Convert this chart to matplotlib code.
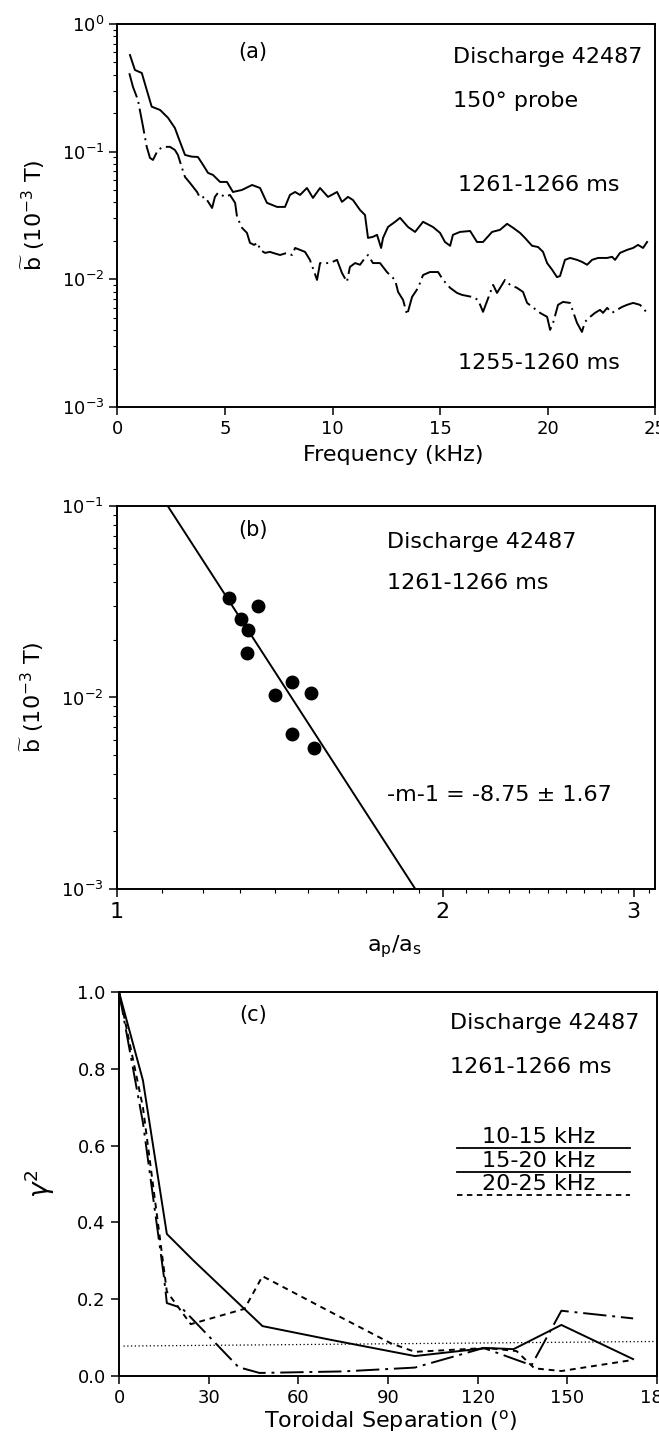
import matplotlib
matplotlib.use('Agg')
import matplotlib.pyplot as plt
from matplotlib.ticker import FixedLocator, NullFormatter, LogLocator
import numpy as np

plt.rcParams['font.family'] = ['DejaVu Sans']
plt.rcParams['mathtext.default'] = 'regular'

# ---- panel (a): spectra, discharge 42487, 150 deg probe
freq_late = [0.58, 0.81, 1.13, 1.36, 1.59, 1.98, 2.35, 2.67, 2.91, 3.14, 3.45, 3.74, 3.98, 4.21,
             4.44, 4.77, 5.09, 5.37, 5.79, 6.26, 6.63, 6.95, 7.42, 7.79, 8.02, 8.26, 8.49, 8.81,
             9.09, 9.42, 9.79, 10.21, 10.44, 10.72, 10.95, 11.28, 11.51, 11.65, 11.88, 12.07,
             12.26, 12.35, 12.58, 12.91, 13.14, 13.51, 13.84, 14.21, 14.67, 15.00, 15.23, 15.47,
             15.60, 15.93, 16.40, 16.72, 17.00, 17.42, 17.79, 18.12, 18.40, 18.72, 18.95, 19.28,
             19.56, 19.79, 19.98, 20.21, 20.44, 20.58, 20.81, 21.05, 21.37, 21.60, 21.84, 22.07,
             22.35, 22.77, 23.00, 23.14, 23.37, 23.70, 23.98, 24.21, 24.44, 24.63]
b_late = [0.571, 0.436, 0.413, 0.304, 0.225, 0.212, 0.184, 0.153, 0.119, 0.0942, 0.0914, 0.0908,
          0.0787, 0.0681, 0.0657, 0.0579, 0.0579, 0.0483, 0.0501, 0.0548, 0.0519, 0.0397, 0.0369,
          0.0369, 0.0458, 0.0483, 0.0458, 0.0519, 0.0434, 0.0519, 0.0442, 0.0483, 0.0404, 0.0442,
          0.0418, 0.0349, 0.0319, 0.0211, 0.0215, 0.0223, 0.0176, 0.0211, 0.0257, 0.0282, 0.0303,
          0.0257, 0.0235, 0.0282, 0.0257, 0.0231, 0.0196, 0.0183, 0.0223, 0.0235, 0.0239, 0.0196,
          0.0196, 0.0235, 0.0244, 0.0272, 0.0253, 0.0231, 0.0211, 0.0183, 0.0179, 0.0164, 0.0134,
          0.0119, 0.0104, 0.0106, 0.0142, 0.0147, 0.0142, 0.0137, 0.0130, 0.0142, 0.0147, 0.0147,
          0.0150, 0.0142, 0.0161, 0.0170, 0.0176, 0.0186, 0.0176, 0.0196]

freq_early = [0.55, 0.72, 0.95, 1.19, 1.36, 1.51, 1.65, 1.88, 2.12, 2.44, 2.67, 2.81, 3.00, 3.14,
              3.37, 3.70, 3.84, 4.07, 4.40, 4.53, 4.67, 5.00, 5.23, 5.47, 5.56, 5.79, 6.02, 6.16,
              6.35, 6.53, 6.63, 6.86, 7.09, 7.23, 7.56, 7.88, 8.12, 8.26, 8.49, 8.72, 8.95, 9.28,
              9.42, 9.88, 10.21, 10.44, 10.67, 10.81, 11.05, 11.28, 11.51, 11.65, 11.88, 12.21,
              12.53, 12.77, 12.91, 13.05, 13.28, 13.47, 13.70, 13.98, 14.21, 14.53, 14.91, 15.14,
              15.47, 15.79, 16.02, 16.49, 16.77, 17.00, 17.33, 17.47, 17.65, 18.02, 18.26, 18.58,
              18.86, 19.05, 19.65, 19.98, 20.12, 20.26, 20.49, 20.72, 21.05, 21.19, 21.37, 21.60,
              21.74, 21.98, 22.21, 22.44, 22.58, 22.77, 23.00, 23.23, 23.47, 23.70, 23.98, 24.30,
              24.63]
b_early = [0.411, 0.321, 0.254, 0.156, 0.109, 0.0893, 0.0861, 0.103, 0.109, 0.109, 0.103, 0.0942,
           0.0745, 0.0633, 0.0569, 0.0483, 0.0434, 0.0442, 0.0362, 0.0442, 0.0475, 0.0442, 0.0458,
           0.0397, 0.0308, 0.0253, 0.0231, 0.0193, 0.0186, 0.0193, 0.0170, 0.0161, 0.0164, 0.0161,
           0.0155, 0.0161, 0.0155, 0.0176, 0.0170, 0.0164, 0.0142, 0.00989, 0.0134, 0.0134,
           0.0142, 0.0112, 0.00955, 0.0125, 0.0134, 0.0130, 0.0147, 0.0155, 0.0134, 0.0134,
           0.0114, 0.0104, 0.00989, 0.00796, 0.00690, 0.00527, 0.00728, 0.00857, 0.0108, 0.0114,
           0.0114, 0.00989, 0.00857, 0.00782, 0.00755, 0.00728, 0.00690, 0.00556, 0.00782,
           0.00904, 0.00782, 0.00989, 0.00904, 0.00857, 0.00796, 0.00653, 0.00546, 0.00508,
           0.00402, 0.00456, 0.00631, 0.00665, 0.00653, 0.00556, 0.00456, 0.00387, 0.00464,
           0.00508, 0.00546, 0.00576, 0.00546, 0.00597, 0.00546, 0.00576, 0.00608, 0.00631,
           0.00653, 0.00631, 0.00546]

# ---- panel (b): amplitude vs a_p/a_s
ratio = [1.269, 1.349, 1.302, 1.321, 1.318, 1.451, 1.399, 1.51, 1.451, 1.52]
b_amp = [0.0331, 0.0301, 0.0257, 0.0225, 0.0171, 0.0120, 0.0103, 0.0106, 0.00645, 0.00544]
fit_x = [1.114, 1.886]
fit_y = [0.1, 0.001]

# ---- panel (c): coherence vs toroidal separation
sep_1015 = [0, 8, 16, 25, 48, 71, 99, 123, 132, 148, 172]
coh_1015 = [1.0, 0.77, 0.37, 0.30, 0.13, 0.094, 0.052, 0.073, 0.07, 0.133, 0.044]
sep_1520 = [0, 8, 15, 16, 21, 40, 47, 75, 99, 122, 138, 148, 172]
coh_1520 = [1.0, 0.66, 0.26, 0.19, 0.177, 0.023, 0.008, 0.012, 0.022, 0.073, 0.028, 0.17, 0.15]
sep_2025 = [0, 8, 16, 24, 42, 48, 70, 91, 99, 123, 133, 139, 148, 172]
coh_2025 = [1.0, 0.70, 0.22, 0.135, 0.175, 0.26, 0.17, 0.085, 0.063, 0.073, 0.065, 0.02, 0.013, 0.042]
sig_x = [1.5, 180]
sig_y = [0.078, 0.09]

FS = 16
TS = 13
dashdot_a = (0, (13, 2.5, 1, 2.5))
dashdot_c = (0, (12, 3, 1.5, 3))
dashed_c = (0, (3, 2.5))
BLABEL = r'$\widetilde{\mathrm{b}}$ (10$^{-3}$ T)'


def style(ax):
    for s in ax.spines.values():
        s.set_linewidth(1.4)
    ax.tick_params(which='both', direction='out', labelsize=TS, top=False, right=False)
    ax.tick_params(which='major', length=6, width=1.1)
    ax.tick_params(which='minor', length=3, width=0.8)


fig = plt.figure(figsize=(6.59, 14.35), dpi=100)

# (a)
ax = fig.add_axes([0.1783, 0.7164, 0.8157, 0.2669])
ax.plot(freq_late, b_late, color='k', lw=1.4)
ax.plot(freq_early, b_early, color='k', lw=1.4, linestyle=dashdot_a)
ax.set_yscale('log')
ax.set_xlim(0, 25)
ax.set_ylim(1e-3, 1)
ax.set_xticks([0, 5, 10, 15, 20, 25])
ax.yaxis.set_minor_locator(LogLocator(base=10, subs=np.arange(2, 10)))
ax.yaxis.set_minor_formatter(NullFormatter())
style(ax)
ax.set_xlabel('Frequency (kHz)', fontsize=FS)
ax.xaxis.set_label_coords(0.513, -0.099)
ax.set_ylabel(BLABEL, fontsize=FS)
ax.yaxis.set_label_coords(-0.132, 0.5)
ax.text(0.252, 0.927, '(a)', transform=ax.transAxes, fontsize=FS - 1, ha='center', va='center')
ax.text(0.624, 0.914, 'Discharge 42487', transform=ax.transAxes, fontsize=FS, va='center')
ax.text(0.624, 0.80, '150° probe', transform=ax.transAxes, fontsize=FS, va='center')
ax.text(0.633, 0.58, '1261-1266 ms', transform=ax.transAxes, fontsize=FS, va='center')
ax.text(0.633, 0.115, '1255-1260 ms', transform=ax.transAxes, fontsize=FS, va='center')

# (b)
bx = fig.add_axes([0.1775, 0.3805, 0.8164, 0.2669])
bx.plot(fit_x, fit_y, color='k', lw=1.4)
bx.plot(ratio, b_amp, 'o', color='k', markersize=9)
bx.set_xscale('log')
bx.set_yscale('log')
bx.set_xlim(1, 3.14)
bx.set_ylim(1e-3, 1e-1)
bx.xaxis.set_major_locator(FixedLocator([1, 2, 3]))
bx.xaxis.set_minor_locator(FixedLocator(list(np.arange(1.1, 2.0, 0.1)) + list(np.arange(2.1, 3.0, 0.1)) + [3.1]))
bx.xaxis.set_minor_formatter(NullFormatter())
bx.set_xticklabels(['1', '2', '3'])
bx.yaxis.set_minor_locator(LogLocator(base=10, subs=np.arange(2, 10)))
bx.yaxis.set_minor_formatter(NullFormatter())
style(bx)
bx.tick_params(axis='x', labelsize=FS)
bx.set_xlabel(r'$a_p/a_s$', fontsize=FS)
bx.xaxis.set_label_coords(0.515, -0.115)
bx.set_ylabel(BLABEL, fontsize=FS)
bx.yaxis.set_label_coords(-0.132, 0.5)
bx.text(0.253, 0.937, '(b)', transform=bx.transAxes, fontsize=FS - 1, ha='center', va='center')
bx.text(0.502, 0.906, 'Discharge 42487', transform=bx.transAxes, fontsize=FS, va='center')
bx.text(0.502, 0.80, '1261-1266 ms', transform=bx.transAxes, fontsize=FS, va='center')
bx.text(0.502, 0.245, '-m-1 = -8.75 ± 1.67', transform=bx.transAxes, fontsize=FS, va='center')

# (c)
cx = fig.add_axes([0.1806, 0.0411, 0.8164, 0.2676])
cx.plot(sep_1015, coh_1015, color='k', lw=1.4)
cx.plot(sep_1520, coh_1520, color='k', lw=1.4, linestyle=dashdot_c)
cx.plot(sep_2025, coh_2025, color='k', lw=1.4, linestyle=dashed_c)
cx.plot(sig_x, sig_y, color='k', lw=0.9, linestyle=(0, (1, 2)))
cx.set_xlim(0, 180)
cx.set_ylim(0, 1)
cx.set_xticks([0, 30, 60, 90, 120, 150, 180])
cx.set_yticks([0, 0.2, 0.4, 0.6, 0.8, 1.0])
cx.set_yticklabels(['0.0', '0.2', '0.4', '0.6', '0.8', '1.0'])
style(cx)
cx.set_xlabel(r'Toroidal Separation ($^{o}$)', fontsize=FS)
cx.xaxis.set_label_coords(0.504, -0.083)
cx.set_ylabel(r'$\mathit{\gamma}^2$', fontsize=FS + 3)
cx.yaxis.set_label_coords(-0.115, 0.5)
cx.text(0.249, 0.94, '(c)', transform=cx.transAxes, fontsize=FS - 1, ha='center', va='center')
cx.text(0.615, 0.919, 'Discharge 42487', transform=cx.transAxes, fontsize=FS, va='center')
cx.text(0.615, 0.805, '1261-1266 ms', transform=cx.transAxes, fontsize=FS, va='center')

# hand-drawn key, label above each line sample
key_labels = ['10-15 kHz', '15-20 kHz', '20-25 kHz']
key_styles = ['-', '-', dashed_c]
key_y = [0.594, 0.531, 0.471]
for lab, ls, yy in zip(key_labels, key_styles, key_y):
    cx.plot([0.628, 0.95], [yy, yy], transform=cx.transAxes, color='k', lw=1.3, linestyle=ls)
    cx.text(0.675, yy + 0.003, lab, transform=cx.transAxes, fontsize=FS, va='bottom')

fig.savefig('out.png', dpi=100)
